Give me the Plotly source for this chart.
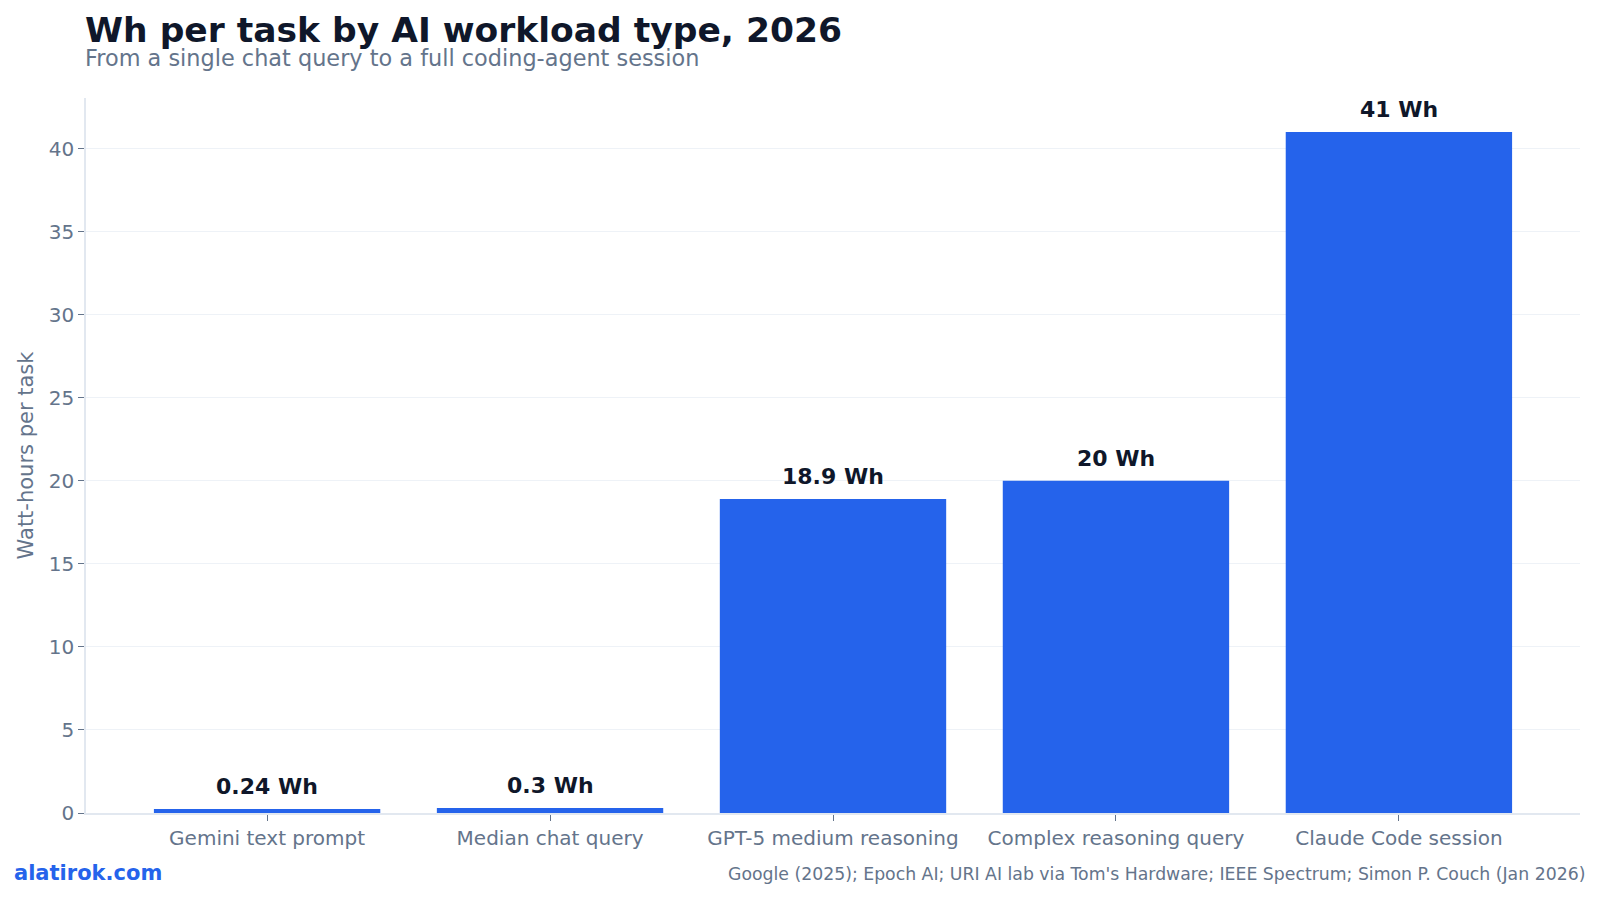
import plotly.graph_objects as go

categories = ["Gemini text prompt", "Median chat query", "GPT-5 medium reasoning",
              "Complex reasoning query", "Claude Code session"]
values = [0.24, 0.3, 18.9, 20, 41]
labels = ["0.24 Wh", "0.3 Wh", "18.9 Wh", "20 Wh", "41 Wh"]

FONT = "DejaVu Sans"
L, R, T, B = 86, 20, 98, 86
W, H = 1600, 899
PW, PH = W - L - R, H - T - B

def px(x):
    return (x - L) / PW

def py(y):
    return (H - B - y) / PH

fig = go.Figure(go.Bar(
    x=list(range(len(categories))), y=values,
    marker=dict(color="#2563EB", line=dict(width=0)),
    width=0.8,
    hoverinfo="skip",
))
for i, (v, lab) in enumerate(zip(values, labels)):
    fig.add_annotation(x=i, y=v, text=f"<b>{lab}</b>", showarrow=False,
                       xanchor="center", yanchor="bottom", yshift=8,
                       font=dict(family=FONT, size=22, color="#0f172a"))

fig.update_layout(
    width=W, height=H,
    margin=dict(l=L, r=R, t=T, b=B),
    paper_bgcolor="white", plot_bgcolor="white",
    font=dict(family=FONT, color="#64748b"),
    showlegend=False,
    xaxis=dict(
        range=[-0.64, 4.64],
        tickmode="array", tickvals=list(range(len(categories))), ticktext=categories,
        showline=True, linecolor="#e2e8f0", linewidth=1.5,
        ticks="outside", ticklen=6, tickcolor="#64748b",
        tickfont=dict(family=FONT, size=20, color="#64748b"),
        showgrid=False, zeroline=False,
    ),
    yaxis=dict(
        range=[0, 43.05], dtick=5,
        showline=True, linecolor="#e2e8f0", linewidth=1.5,
        ticks="outside", ticklen=6, tickcolor="#64748b",
        tickfont=dict(family=FONT, size=20, color="#64748b"),
        gridcolor="#eef2f7", gridwidth=1,
        zeroline=False,
        title=dict(text="Watt-hours per task", font=dict(family=FONT, size=21, color="#64748b"), standoff=9),
    ),
)
fig.add_annotation(text="<b>Wh per task by AI workload type, 2026</b>", x=px(83), y=py(29.5),
                   xref="paper", yref="paper", xanchor="left", yanchor="middle",
                   showarrow=False, font=dict(family=FONT, size=34.5, color="#0f172a"))
fig.add_annotation(text="From a single chat query to a full coding-agent session", x=px(83), y=py(58),
                   xref="paper", yref="paper", xanchor="left", yanchor="middle",
                   showarrow=False, font=dict(family=FONT, size=22.4, color="#64748b"))
fig.add_annotation(text="<b>alatirok.com</b>", x=px(12), y=py(873),
                   xref="paper", yref="paper", xanchor="left", yanchor="middle",
                   showarrow=False, font=dict(family=FONT, size=21, color="#2563EB"))
fig.add_annotation(text="Google (2025); Epoch AI; URI AI lab via Tom's Hardware; IEEE Spectrum; Simon P. Couch (Jan 2026)",
                   x=px(1587), y=py(874), xref="paper", yref="paper",
                   xanchor="right", yanchor="middle", showarrow=False,
                   font=dict(family=FONT, size=17.3, color="#64748b"))
fig.write_html("out.html")
